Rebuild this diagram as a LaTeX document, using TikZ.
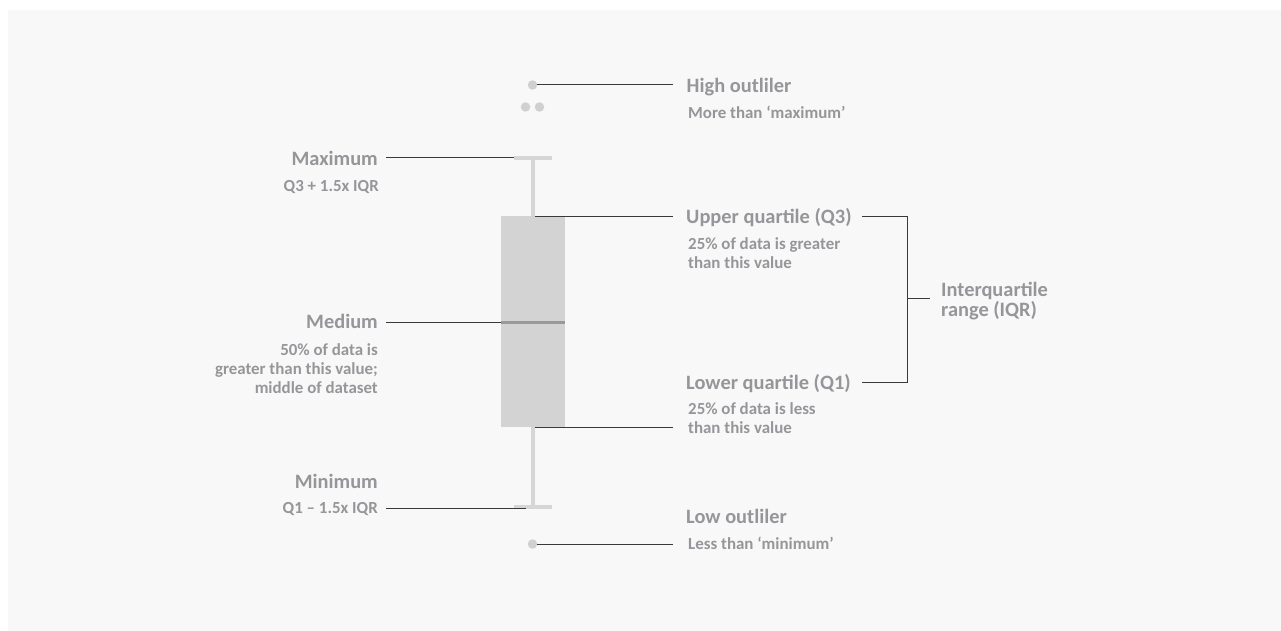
\documentclass[tikz,border=0pt]{standalone}
\usepackage{fontspec}
\newfontfamily\labfont{Carlito}
\definecolor{txt}{HTML}{96969A}
\definecolor{bgc}{HTML}{F8F8F8}
\definecolor{boxc}{HTML}{D3D3D3}
\definecolor{whc}{HTML}{D6D6D6}
\definecolor{medc}{HTML}{999999}
\definecolor{dotc}{HTML}{D0D0D0}
\definecolor{linec}{HTML}{3A3A3A}
\tikzset{
  title/.style={font=\labfont\bfseries\fontsize{20.4}{19.5}\selectfont, text=txt, inner sep=0pt},
  sub/.style={font=\labfont\bfseries\fontsize{16.9}{19}\selectfont, text=txt, inner sep=0pt},
  conn/.style={draw=linec, line width=1pt},
  whisk/.style={draw=whc, line width=4pt},
  dotst/.style={circle, fill=dotc, inner sep=0pt, minimum size=9.5pt},
  boxst/.style={fill=boxc, inner sep=0pt, draw=none},
}
\begin{document}
\begin{tikzpicture}[x=1pt,y=-1pt]
\useasboundingbox (0,0) rectangle (1281,631);
\fill[white] (0,0) rectangle (1281,631);
\fill[bgc] (8,10) rectangle (1281,631);
% whisker and box
\draw[whisk] (533,158) -- (533,507);
\draw[whisk] (514,158) -- (552,158);
\draw[whisk] (514,507) -- (552,507);
\node[boxst, minimum width=64pt, minimum height=211pt] (box) at (533,321.5) {};
\draw[draw=medc, line width=3pt] (box.west |- 0,322) -- (box.east |- 0,322);
% outlier dots
\node[dotst] (hi) at (532.5,85) {};
\node[dotst] (hi2) at (525.5,107) {};
\node[dotst] (hi3) at (539.5,107) {};
\node[dotst] (lo) at (532.5,544) {};
% coordinates
\coordinate (hiE) at (673,85);
\coordinate (loE) at (673,544);
\coordinate (maxL) at (386,158);
\coordinate (maxR) at (514,158);
\coordinate (medL) at (386,322);
\coordinate (minL) at (386,508);
\coordinate (minR) at (526,508);
\coordinate (q3L) at (535,216);
\coordinate (q3R) at (673,216);
\coordinate (q1L) at (535,427);
\coordinate (q1R) at (673,427);
\coordinate (brT) at (862,216);
\coordinate (brB) at (862,382.5);
\coordinate (brM) at (907,298);
\coordinate (brE) at (930,298);
% labels
\node[title, anchor=base west] (high) at (686.5,93) {High outliler};
\node[sub, anchor=base west] (highs) at (688,119) {More than ‘maximum’};
\node[title, anchor=base east] (max) at (378,166) {Maximum};
\node[sub, anchor=base east] (maxs) at (379,192) {Q3 + 1.5x IQR};
\node[title, anchor=base west] (upq) at (686,223) {Upper quartile (Q3)};
\node[sub, anchor=base west, align=left] (upqs) at (688,268) {25\% of data is greater\\than this value};
\node[title, anchor=base west, align=left] (iqr) at (941,316) {Interquartile\\range (IQR)};
\node[title, anchor=base east] (med) at (378,328) {Medium};
\node[sub, anchor=base east, align=right] (meds) at (378,393) {50\% of data is\\greater than this value;\\middle of dataset};
\node[title, anchor=base west] (loq) at (686,389) {Lower quartile (Q1)};
\node[sub, anchor=base west, align=left] (loqs) at (688,433) {25\% of data is less\\than this value};
\node[title, anchor=base east] (min) at (378,488) {Minimum};
\node[sub, anchor=base east] (mins) at (378,513) {Q1 – 1.5x IQR};
\node[title, anchor=base west] (low) at (686,523) {Low outliler};
\node[sub, anchor=base west] (lows) at (688,549) {Less than ‘minimum’};
% connectors
\draw[conn] (hi) -- (hiE);
\draw[conn] (lo) -- (loE);
\draw[conn] (maxL) -- (maxR);
\draw[conn] (medL) -- (medL -| box.west);
\draw[conn] (minL) -- (minR);
\draw[conn] (q3L) -- (q3R);
\draw[conn] (q1L) -- (q1R);
\draw[conn] (brT) -- (brT -| brM) -- (brB -| brM) -- (brB);
\draw[conn] (brM) -- (brE);
\end{tikzpicture}
\end{document}
